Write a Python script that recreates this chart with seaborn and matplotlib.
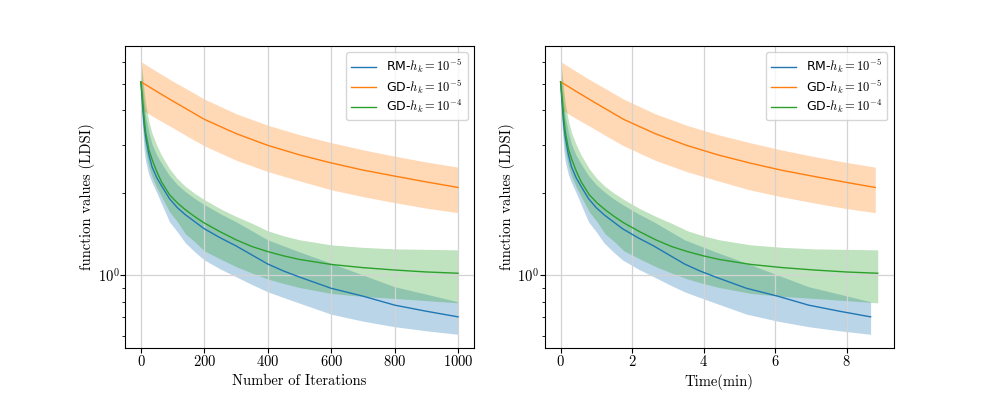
import numpy as np
import pandas as pd
import matplotlib
matplotlib.use('Agg')
import matplotlib.pyplot as plt
import seaborn as sns

# iterations at which the RM / GD-1e-4 curves were read
iters = [0, 5, 10, 15, 25, 35, 50, 65, 90, 115, 140, 170, 200, 250, 300, 350, 400, 450, 500, 600, 700, 800, 900, 1000]

rm_mean = [5.09, 4.18, 3.56, 3.19, 2.76, 2.49, 2.27, 2.12, 1.903, 1.763, 1.662, 1.566, 1.476, 1.368,
           1.278, 1.184, 1.097, 1.034, 0.983, 0.894, 0.837, 0.776, 0.737, 0.703]
rm_upper = [5.87, 4.87, 4.22, 3.81, 3.33, 3.01, 2.74, 2.56, 2.31, 2.14, 2.02, 1.903, 1.81, 1.676,
            1.566, 1.451, 1.345, 1.278, 1.215, 1.104, 1.0, 0.906, 0.851, 0.798]
rm_lower = [4.40, 3.47, 2.88, 2.60, 2.33, 2.18, 2.00, 1.824, 1.566, 1.439, 1.311, 1.215, 1.135, 1.052,
            0.986, 0.923, 0.868, 0.827, 0.789, 0.719, 0.678, 0.647, 0.625, 0.607]

gd4_mean = [5.09, 4.40, 3.78, 3.33, 2.88, 2.65, 2.39, 2.19, 1.968, 1.835, 1.734, 1.634, 1.549, 1.439,
            1.345, 1.271, 1.218, 1.175, 1.140, 1.093, 1.064, 1.043, 1.026, 1.015]
gd4_upper = [6.12, 5.44, 4.71, 4.22, 3.65, 3.30, 2.98, 2.74, 2.45, 2.25, 2.11, 1.986, 1.887, 1.748,
             1.638, 1.546, 1.451, 1.391, 1.345, 1.289, 1.262, 1.246, 1.241, 1.236]
gd4_lower = [4.40, 3.65, 3.13, 2.83, 2.49, 2.29, 2.09, 1.935, 1.705, 1.566, 1.415, 1.322, 1.225, 1.145,
             1.073, 1.017, 0.967, 0.931, 0.900, 0.856, 0.835, 0.821, 0.806, 0.791]

# GD-1e-5 is smooth, fewer reads
iters_gd5 = [0, 50, 100, 150, 200, 300, 400, 500, 600, 700, 800, 900, 1000]
gd5_mean = [5.09, 4.69, 4.33, 4.01, 3.71, 3.29, 2.98, 2.75, 2.57, 2.42, 2.30, 2.19, 2.09]
gd5_upper = [6.03, 5.55, 5.12, 4.75, 4.40, 3.89, 3.53, 3.26, 3.05, 2.87, 2.72, 2.59, 2.48]
gd5_lower = [4.04, 3.73, 3.46, 3.20, 2.97, 2.63, 2.39, 2.21, 2.05, 1.935, 1.84, 1.756, 1.69]

# total run time (minutes) for 1000 iterations
total_min = {'rm': 8.67, 'gd5': 8.80, 'gd4': 8.87}

labels = {'rm': r'RM-$h_k=10^{-5}$', 'gd5': r'GD-$h_k=10^{-5}$', 'gd4': r'GD-$h_k=10^{-4}$'}
colors = {'rm': '#1f77b4', 'gd5': '#ff7f0e', 'gd4': '#2ca02c'}

series = [
    ('rm', iters, rm_mean, rm_lower, rm_upper),
    ('gd5', iters_gd5, gd5_mean, gd5_lower, gd5_upper),
    ('gd4', iters, gd4_mean, gd4_lower, gd4_upper),
]

plt.rcParams['mathtext.fontset'] = 'cm'
plt.rcParams['axes.formatter.use_mathtext'] = True

fig, axes = plt.subplots(1, 2, figsize=(9.94, 3.98), dpi=100)
fig.subplots_adjust(left=0.1258, right=0.899, top=0.884, bottom=0.1256, wspace=0.203)

for k, ax in enumerate(axes):
    for key, it, m, lo, hi in series:
        x = np.array(it, dtype=float)
        if k == 1:
            x = x / 1000 * total_min[key]
        df = pd.DataFrame({'x': x, 'y': m})
        sns.lineplot(data=df, x='x', y='y', ax=ax, color=colors[key], label=labels[key], linewidth=1.0)
        ax.fill_between(x, lo, hi, color=colors[key], alpha=0.3, linewidth=0)
    ax.set_yscale('log')
    ax.grid(True, which='major', color='#d3d3d3', linewidth=0.9)
    ax.set_ylabel('function values (LDSI)', family='cmr10', fontsize=10.5, labelpad=2)
    ax.legend(loc='upper right', prop={'family': 'DejaVu Sans', 'size': 9}, labelspacing=0.2)
    ax.tick_params(axis='both', which='major', pad=0.5)

axes[0].set_xlabel('Number of Iterations', family='cmr10', fontsize=10.5)
axes[1].set_xlabel('Time(min)', family='cmr10', fontsize=10.5)
axes[0].set_xticks([0, 200, 400, 600, 800, 1000])
axes[1].set_xticks([0, 2, 4, 6, 8])
for ax in axes:
    for t in ax.get_xticklabels() + ax.get_yticklabels():
        t.set_family('cmr10')
        t.set_fontsize(10.5)

fig.savefig('out.png', dpi=100)
